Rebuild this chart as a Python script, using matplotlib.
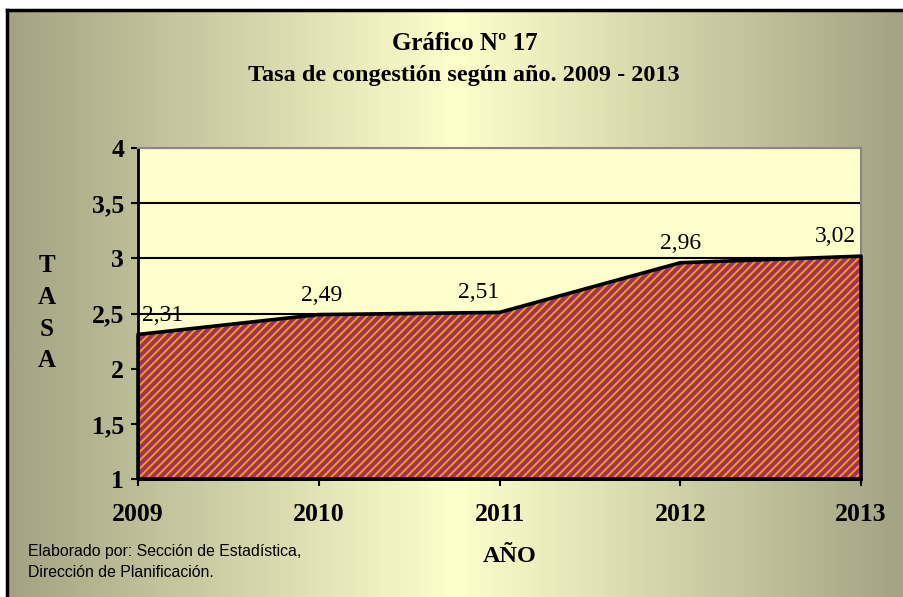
import matplotlib
matplotlib.use("Agg")
import matplotlib.pyplot as plt
import numpy as np
from matplotlib.colors import LinearSegmentedColormap

# Data
years = [2009, 2010, 2011, 2012, 2013]
tasa = [2.31, 2.49, 2.51, 2.96, 3.02]
tasa_labels = ["2,31", "2,49", "2,51", "2,96", "3,02"]
yticks = [1, 1.5, 2, 2.5, 3, 3.5, 4]
ytick_labels = ["1", "1,5", "2", "2,5", "3", "3,5", "4"]

# label nudges (px) so that Excel-like labels stay inside the plot
label_dx = [25, 3, -21, 0, -26]

plt.rcParams['hatch.linewidth'] = 1.4
serif = ['Liberation Serif', 'DejaVu Serif']

fig = plt.figure(figsize=(9.04, 5.97), dpi=100)
fig.patch.set_facecolor('white')

# background: horizontal gradient olive -> light yellow -> olive
bg = fig.add_axes([7/904, 0, 1 - 7/904, 1 - 10/597], zorder=0)
grad = LinearSegmentedColormap.from_list('bg', ['#a3a383', '#ffffcc', '#a3a383'])
bg.imshow(np.linspace(0, 1, 512)[None, :], aspect='auto', cmap=grad,
          extent=[0, 1, 0, 1])
bg.set_xlim(0, 1); bg.set_ylim(0, 1)
bg.set_xticks([]); bg.set_yticks([])
for side in ['right', 'bottom']:
    bg.spines[side].set_visible(False)
for side in ['left', 'top']:
    bg.spines[side].set_linewidth(2.5)
    bg.spines[side].set_color('black')

ax = fig.add_axes([138/904, 118/597, (861-138)/904, (479-148)/597], zorder=1)
ax.set_facecolor('#ffffcc')

ax.fill_between(years, tasa, 1, facecolor='#993366', edgecolor='#ff9900',
                hatch='////', linewidth=0, zorder=2)
ax.fill_between(years, tasa, 1, facecolor='none', edgecolor='black',
                linewidth=2.6, zorder=3, clip_on=False)

ax.set_xlim(years[0], years[-1])
ax.set_ylim(1, 4)
ax.set_yticks(yticks)
ax.set_yticklabels(ytick_labels)
ax.set_xticks(years)
ax.set_xticklabels([str(y) for y in years])
ax.grid(axis='y', color='black', linewidth=1.5, zorder=1)
ax.set_axisbelow(True)

for lab in ax.get_xticklabels() + ax.get_yticklabels():
    lab.set_family(serif)
    lab.set_fontweight('bold')
    lab.set_fontsize(18.5)
ax.tick_params(axis='both', direction='out', length=5, width=1.5, color='black')
ax.tick_params(axis='x', pad=12)
ax.tick_params(axis='y', pad=5)

for side in ['left', 'bottom']:
    ax.spines[side].set_linewidth(2)
    ax.spines[side].set_color('black')
for side in ['top', 'right']:
    ax.spines[side].set_linewidth(1.5)
    ax.spines[side].set_color('#888888')

for x, y, t, dx in zip(years, tasa, tasa_labels, label_dx):
    ax.annotate(t, (x, y), xytext=(dx * 0.72, 14), textcoords='offset points',
                ha='center', va='center', fontsize=17, family=serif,
                zorder=5, annotation_clip=False)

fig.text(465/904, 1 - 44/597, "Gráfico Nº 17", ha='center', va='center',
         fontsize=18, fontweight='bold', family=serif)
fig.text(464/904, 1 - 75/597, "Tasa de congestión según año. 2009 - 2013",
         ha='center', va='center', fontsize=17.5, fontweight='bold', family=serif)

for i, ch in enumerate("TASA"):
    fig.text(47/904, 1 - (266 + i * 31.5)/597, ch, ha='center', va='center',
             fontsize=18, fontweight='bold', family=serif)

fig.text(510/904, 1 - 557/597, "AÑO", ha='center', va='center',
         fontsize=17.5, fontweight='bold', family=serif)

fig.text(28/904, 1 - 562/597,
         "Elaborado por: Sección de Estadística,\nDirección de Planificación.",
         ha='left', va='center', fontsize=11.4, family=['Liberation Sans', 'DejaVu Sans'],
         linespacing=1.45)

fig.savefig("out.png", dpi=100, facecolor=fig.get_facecolor())
